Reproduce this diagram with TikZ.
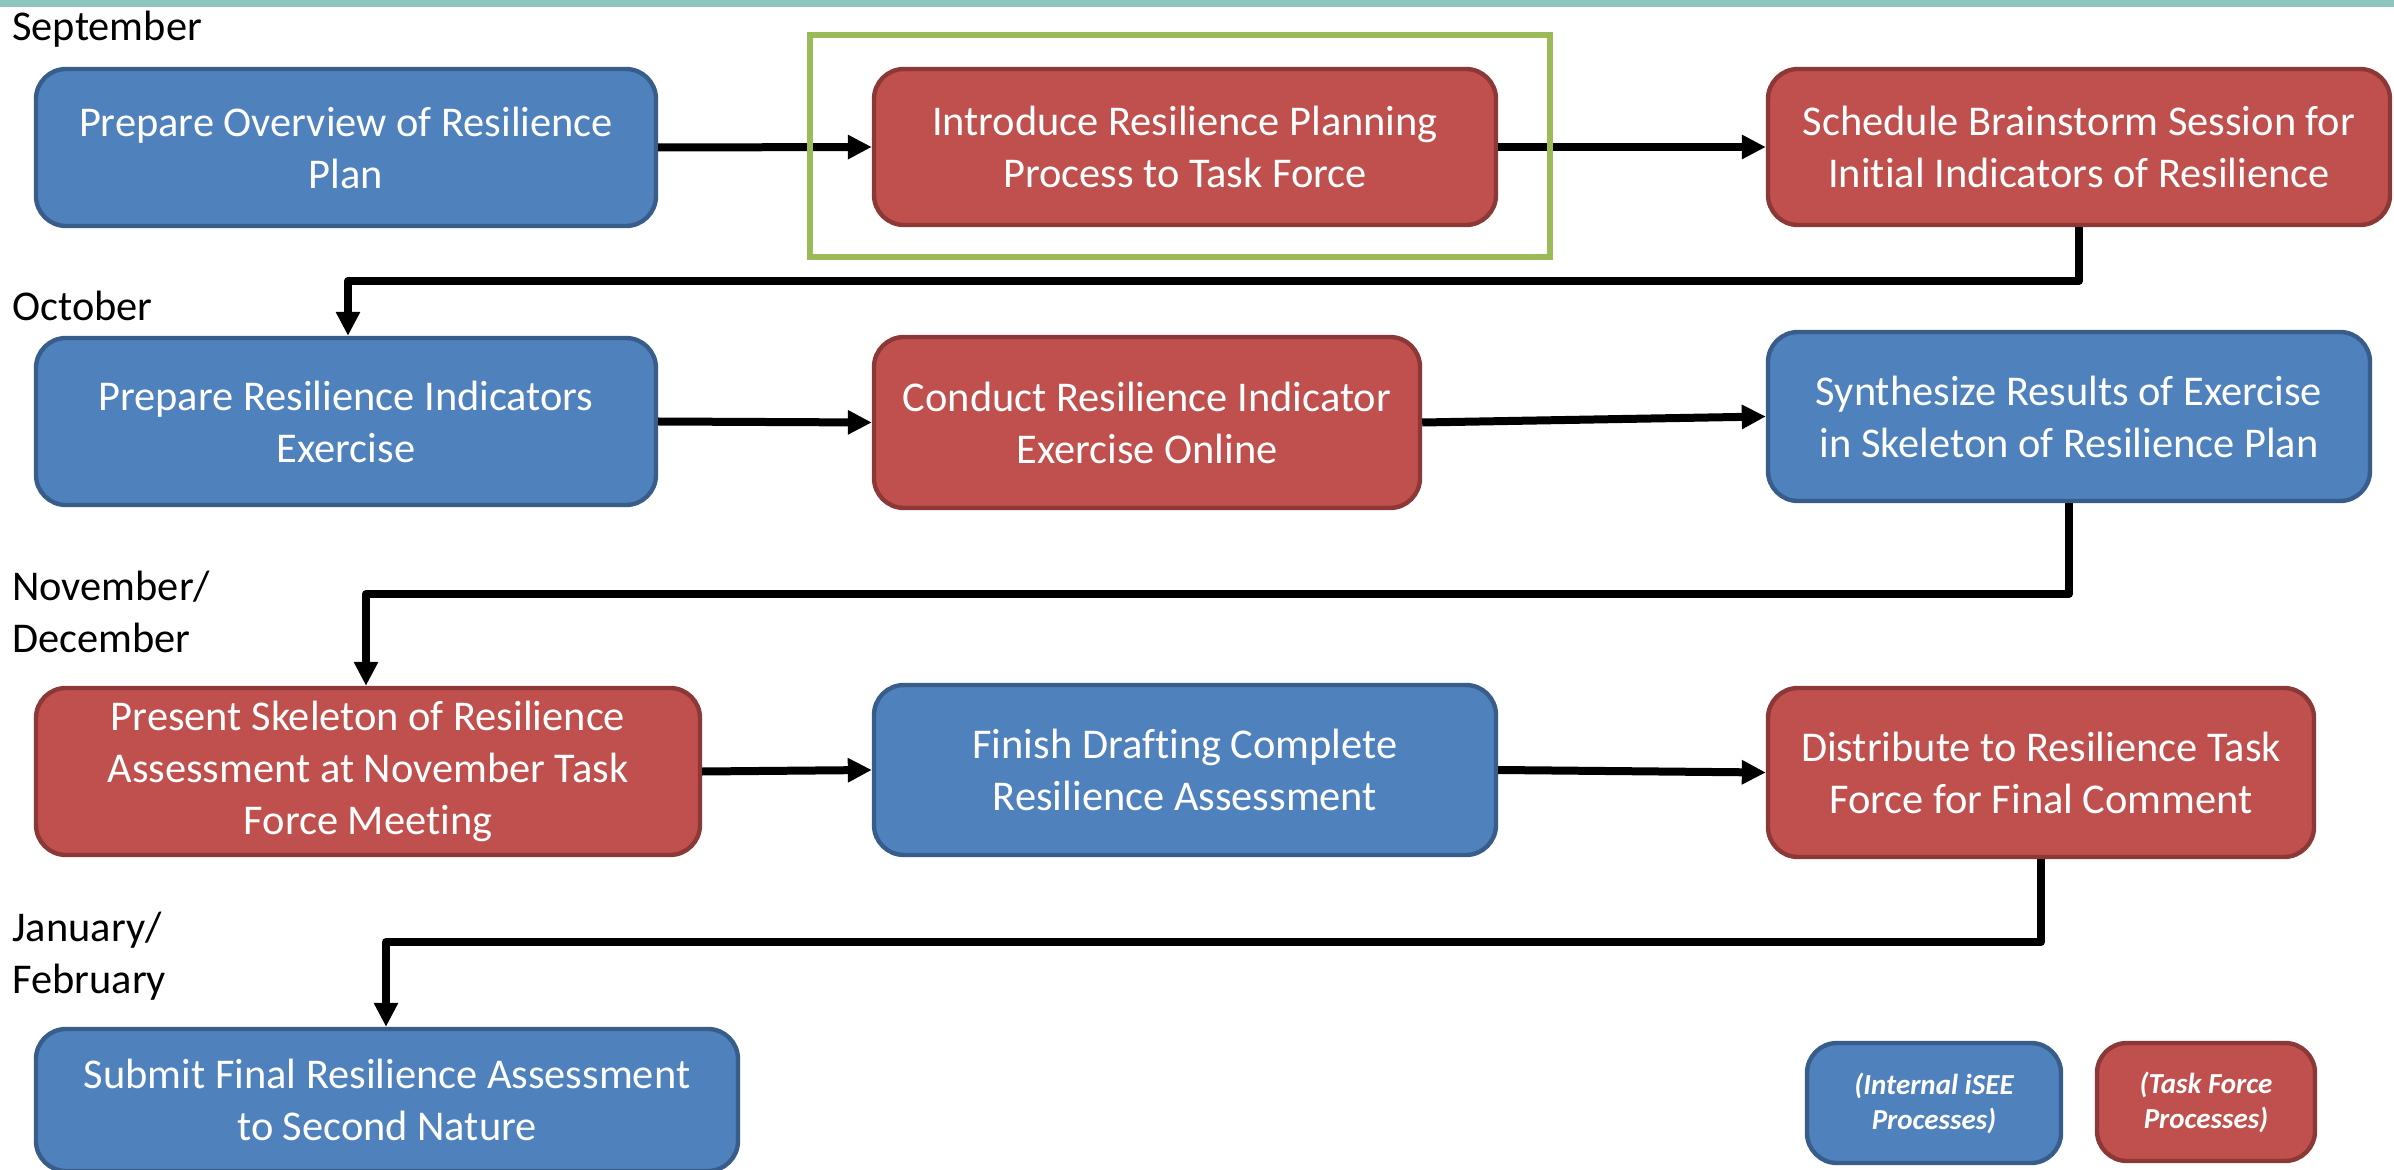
\documentclass[tikz,border=0pt]{standalone}
\usepackage{fontspec}
\setmainfont{Carlito}[Ligatures={NoCommon}]
\usetikzlibrary{arrows.meta}
\definecolor{bfill}{HTML}{4F81BD}
\definecolor{bdraw}{HTML}{385D8A}
\definecolor{rfill}{HTML}{C0504D}
\definecolor{rdraw}{HTML}{8C3836}
\definecolor{hlgreen}{HTML}{9BBB59}
\definecolor{topbar}{HTML}{8CC4BE}
\begin{document}
\begin{tikzpicture}[x=0.5pt,y=-0.5pt,
  box/.style={rounded corners=15pt, line width=2.2pt, inner sep=0pt, align=center, text=white, font=\fontsize{21.2}{26}\selectfont},
  bluebox/.style={box, fill=bfill, draw=bdraw},
  redbox/.style={box, fill=rfill, draw=rdraw},
  legend/.style={font=\fontsize{14.5}{17.5}\selectfont\bfseries\itshape},
  month/.style={anchor=west, inner sep=0pt, align=left, font=\fontsize{21.2}{26}\selectfont},
  conn/.style={line width=4pt, line join=round, -{Triangle[length=12pt,width=11.5pt]}}]
\useasboundingbox (0,0) rectangle (2394,1170);
\fill[topbar] (0,0) rectangle (2394,7);

% month labels
\node[month] (sep) at (12,29) {September};
\node[month] (oct) at (12,306) {October};
\node[month] (nov) at (12,612) {November/\\December};
\node[month] (jan) at (12,956) {January/\\February};

% process boxes
\node[bluebox, minimum width=310pt, minimum height=78.5pt] (A) at (346,147.5) {Prepare Overview of Resilience\\Plan};
\node[redbox, minimum width=311pt, minimum height=78pt] (B) at (1185,147) {Introduce Resilience Planning\\Process to Task Force};
\node[redbox, minimum width=311pt, minimum height=78pt] (C) at (2079,147) {Schedule Brainstorm Session for\\Initial Indicators of Resilience};
\node[bluebox, minimum width=310pt, minimum height=83.5pt] (D) at (346,421.5) {Prepare Resilience Indicators\\Exercise};
\node[redbox, minimum width=273pt, minimum height=85.5pt] (E) at (1147,422.5) {Conduct Resilience Indicator\\Exercise Online};
\node[bluebox, minimum width=301pt, minimum height=84.5pt] (F) at (2069,416.5) {Synthesize Results of Exercise\\in Skeleton of Resilience Plan};
\node[redbox, minimum width=332pt, minimum height=83.5pt] (G) at (368,771.5) {Present Skeleton of Resilience\\Assessment at November Task\\Force Meeting};
\node[bluebox, minimum width=311pt, minimum height=85pt] (H) at (1185,770) {Finish Drafting Complete\\Resilience Assessment};
\node[redbox, minimum width=273pt, minimum height=84.5pt] (I) at (2041,772.5) {Distribute to Resilience Task\\Force for Final Comment};
\node[bluebox, minimum width=351pt, minimum height=71pt] (J) at (387,1100) {Submit Final Resilience Assessment\\to Second Nature};

% legend
\node[bluebox, legend, minimum width=127pt, minimum height=60pt] (L1) at (1934,1103) {(Internal iSEE\\Processes)};
\node[redbox, legend, minimum width=109pt, minimum height=59pt] (L2) at (2206,1102) {(Task Force\\Processes)};

% connectors
\coordinate (cd) at (348,281);
\coordinate (fg) at (366,594);
\coordinate (ij) at (386,942);
\draw[conn] (A.east) -- (B.west);
\draw[conn] (B.east) -- (C.west);
\draw[conn] (C.south) |- (cd) -- (cd |- D.north);
\draw[conn] (D.east) -- (E.west);
\draw[conn] (E.east) -- (F.west);
\draw[conn] (F.south) |- (fg) -- (fg |- G.north);
\draw[conn] (G.east) -- (H.west);
\draw[conn] (H.east) -- (I.west);
\draw[conn] (I.south) |- (ij) -- (ij |- J.north);

% highlight frame
\node[draw=hlgreen, line width=3pt, minimum width=370pt, minimum height=111pt, inner sep=0pt] (hl) at (1180,146) {};
\end{tikzpicture}
\end{document}
